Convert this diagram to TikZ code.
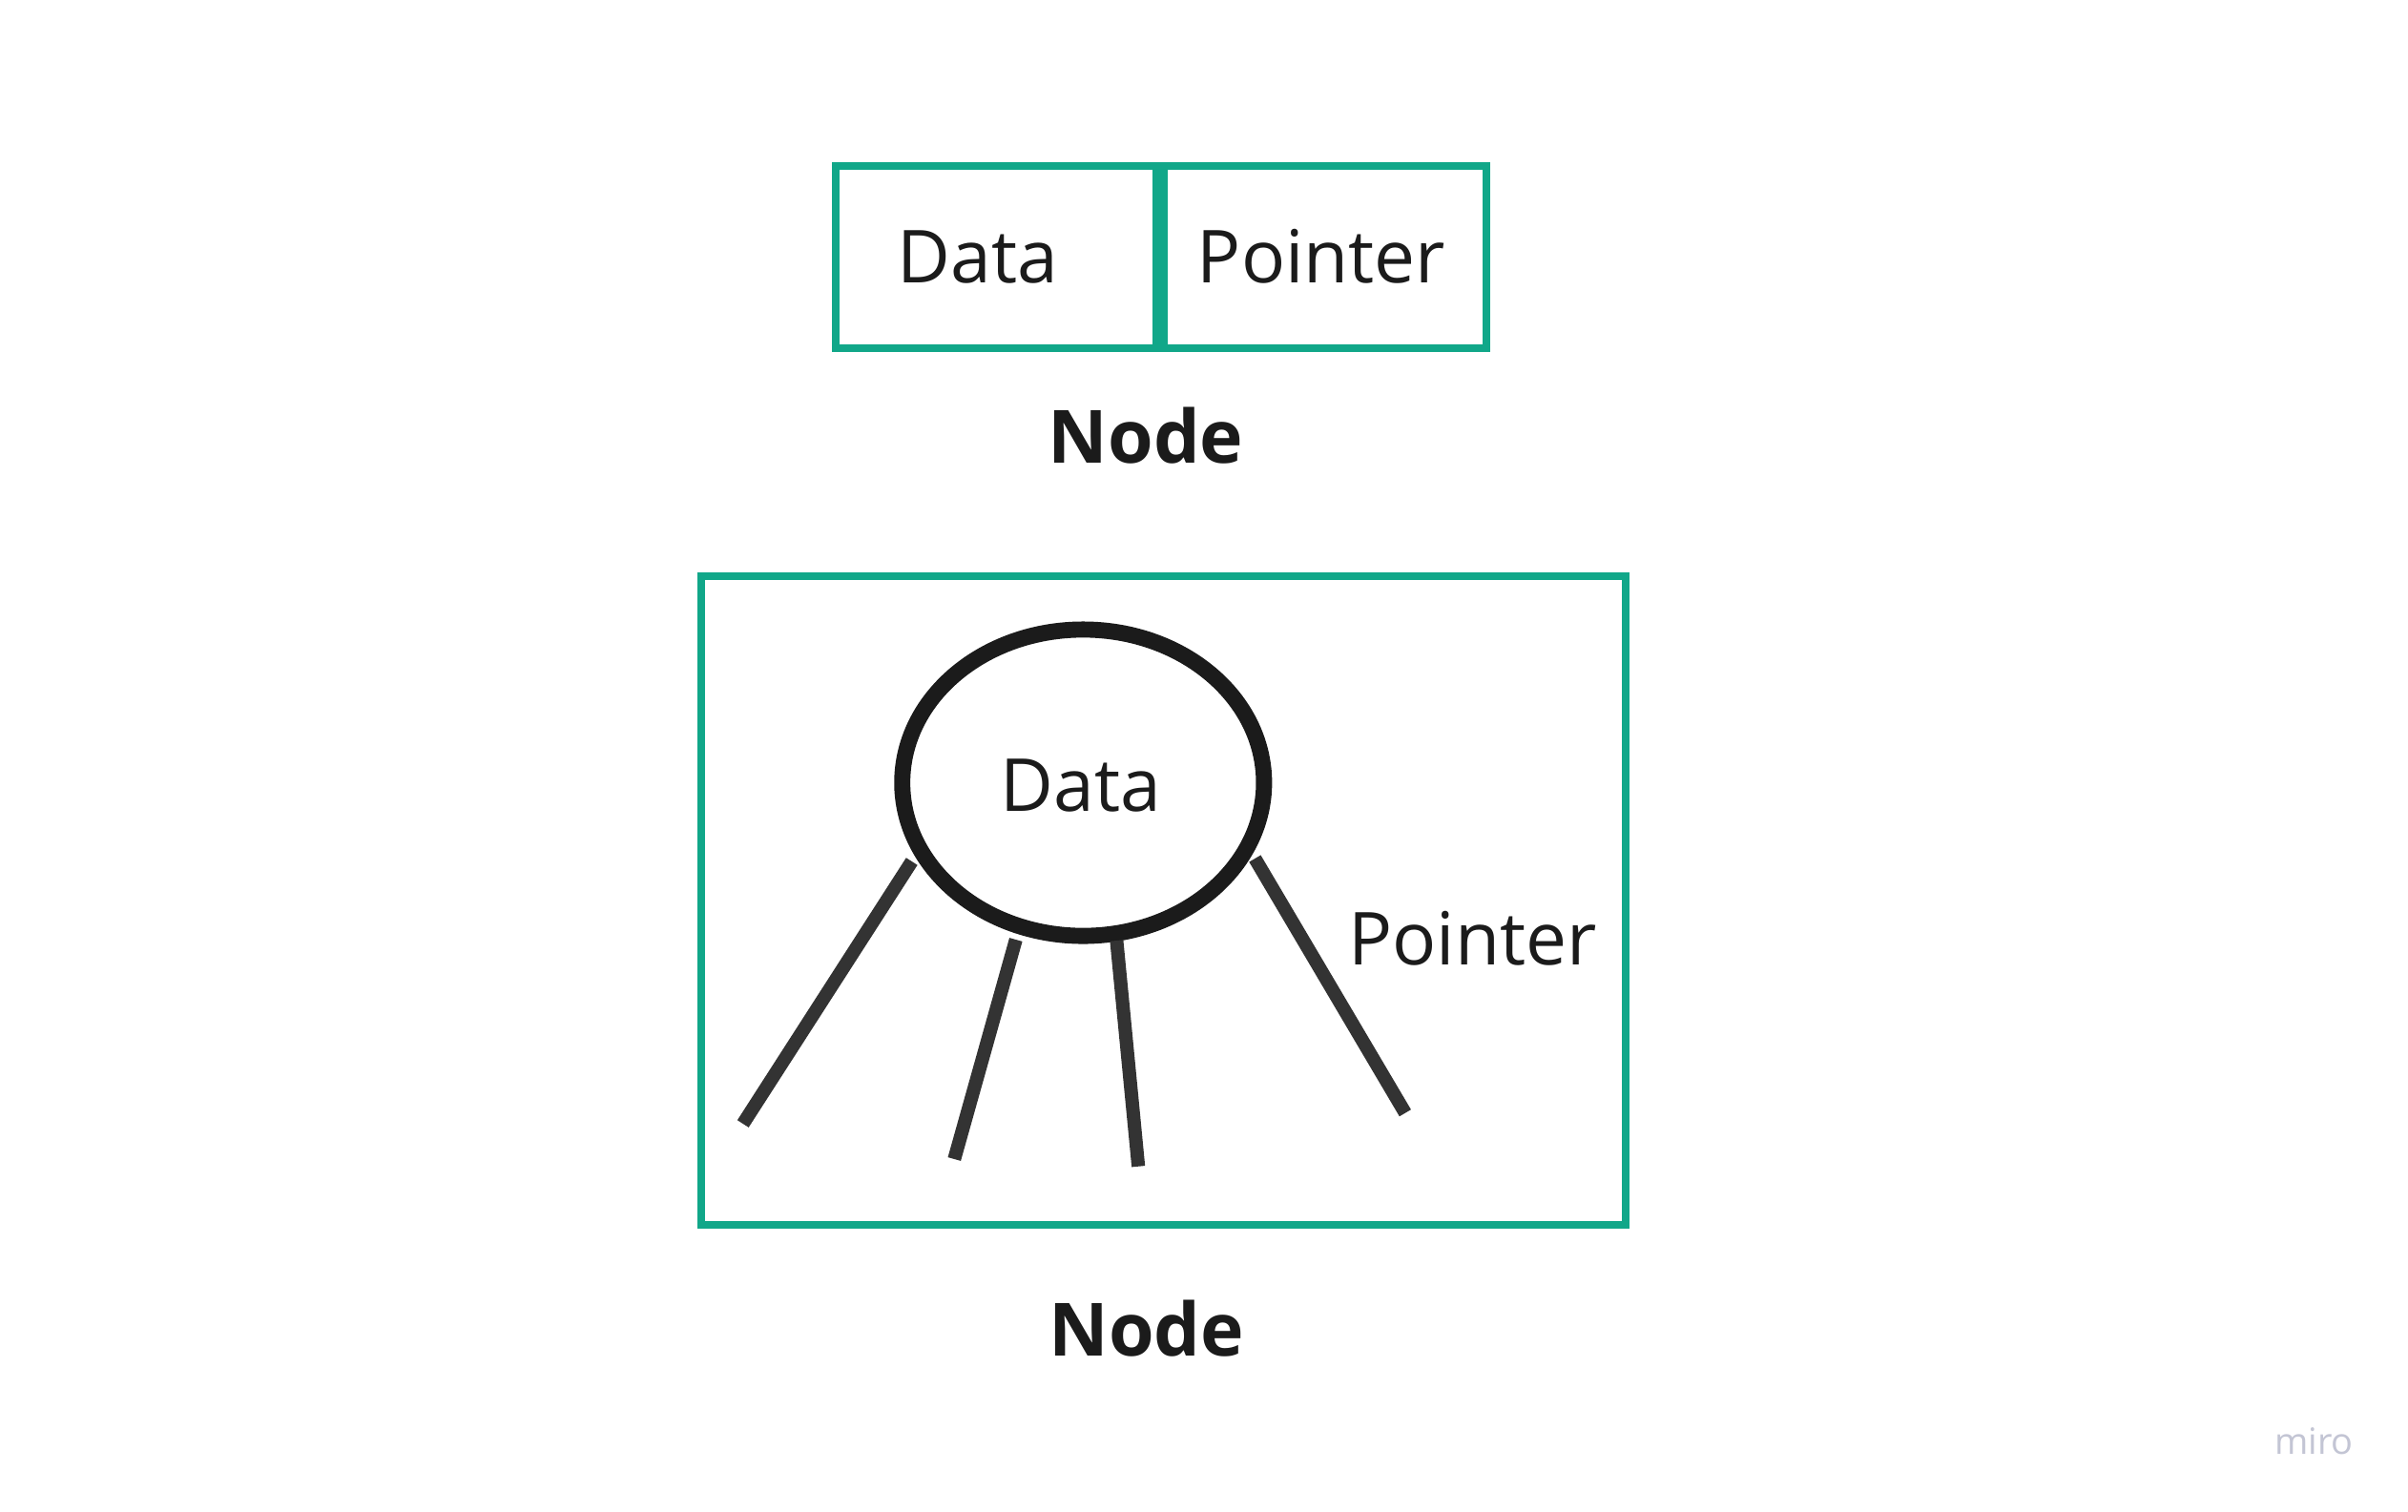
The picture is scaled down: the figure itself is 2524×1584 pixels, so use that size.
\documentclass[tikz,border=0pt]{standalone}
\usepackage{fontspec}
\setmainfont{Open Sans}
\usetikzlibrary{shapes.geometric}
\definecolor{teal}{RGB}{17,167,137}
\definecolor{ink}{RGB}{27,27,27}
\definecolor{spoke}{RGB}{51,51,51}
\definecolor{logo}{RGB}{195,197,212}
\tikzset{
  cellbox/.style={draw=teal, line width=2.19pt, rectangle, inner sep=0pt, fill=none},
  lbl/.style={text=ink, inner sep=0pt, anchor=base, font=\fontsize{21.8pt}{24pt}\selectfont},
  title/.style={text=ink, inner sep=0pt, anchor=base, font=\fontsize{21.9pt}{24pt}\selectfont\bfseries},
  spokeline/.style={draw=spoke, line width=4pt, line cap=butt},
}
\begin{document}
\begin{tikzpicture}[x=0.01cm, y=-0.01cm]
  \fill[white] (0,0) rectangle (2524,1584);
  \useasboundingbox (0,0) rectangle (2524,1584);

  % top node: two cells
  \node[cellbox, minimum width=3.361cm, minimum height=1.911cm] (datacell) at (1044,269.5) {};
  \node[cellbox, minimum width=3.378cm, minimum height=1.911cm] (ptrcell) at (1388.9,269.5) {};
  \node[lbl] (datatxt) at (1025,296.7) {Data};
  \node[lbl] (ptrtxt) at (1385,296.7) {Pointer};
  \node[title] (node1) at (1201,485.7) {Node};

  % bottom node
  \node[cellbox, minimum width=9.685cm, minimum height=6.80cm] (bigbox) at (1219.75,944) {};
  \node[draw=ink, line width=4.8pt, ellipse, inner sep=0pt,
        minimum width=3.79cm, minimum height=3.21cm] (circ) at (1135.3,820.5) {};
  \node[lbl] (circtxt) at (1133,850.7) {Data};

  \coordinate (s1a) at (955.7,903);
  \coordinate (s1b) at (778.8,1178);
  \coordinate (s2a) at (1064.8,985);
  \coordinate (s2b) at (1000.3,1215);
  \coordinate (s3a) at (1170.4,986);
  \coordinate (s3b) at (1193.2,1222.7);
  \coordinate (s4a) at (1315.4,900);
  \coordinate (s4b) at (1472.9,1166.7);
  \draw[spokeline] (s1a) -- (s1b);
  \draw[spokeline] (s2a) -- (s2b);
  \draw[spokeline] (s3a) -- (s3b);
  \draw[spokeline] (s4a) -- (s4b);

  \node[lbl] (ptr2) at (1543.5,1011) {Pointer};
  \node[title] (node2) at (1201.7,1421) {Node};

  \node[text=logo, inner sep=0pt, anchor=base, font=\fontsize{10.8pt}{12pt}\selectfont] (miro) at (2425.5,1524) {miro};
\end{tikzpicture}
\end{document}
